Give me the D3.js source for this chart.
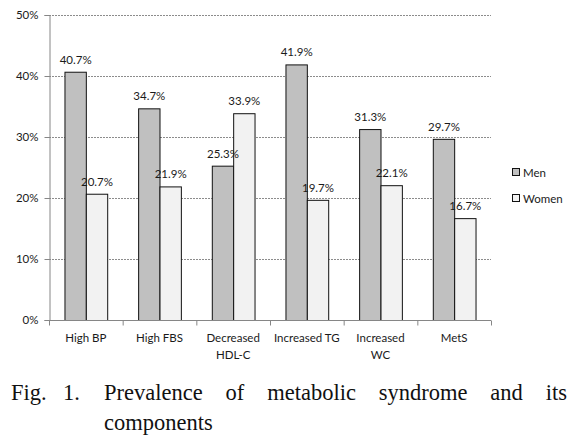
<!DOCTYPE html>
<html><head><meta charset="utf-8">
<script src="https://cdn.jsdelivr.net/npm/d3@7"></script>
<style>body{margin:0;background:#fff}svg{display:block}</style>
</head><body>
<script>
const categories = [["High BP"],["High FBS"],["Decreased","HDL-C"],["Increased TG"],["Increased","WC"],["MetS"]];
const men = [40.7, 34.7, 25.3, 41.9, 31.3, 29.7];
const women = [20.7, 21.9, 33.9, 19.7, 22.1, 16.7];
const seriesNames = ["Men", "Women"];
const yTicks = [0, 10, 20, 30, 40, 50];
const captionLine1 = ["Fig.", "1.", "Prevalence", "of", "metabolic", "syndrome", "and", "its"];
const captionLine2 = "components";

const W = 587, H = 439;
const m = {l:49, r:96, t:15, b:119};
const svg = d3.select("body").append("svg").attr("width", W).attr("height", H);
const font = "Lato, 'Open Sans', sans-serif";

const x = d3.scaleBand().domain(d3.range(categories.length)).range([m.l, W - m.r]).paddingInner(0.42).paddingOuter(0.21);
const y = d3.scaleLinear().domain([0, 50]).range([H - m.b, m.t]);
const xs = d3.scaleBand().domain([0,1]).range([0, x.bandwidth()]);
const colors = ["#c0c0c0", "#f2f2f2"];

// gridlines
svg.append("g").selectAll("line").data(yTicks.filter(d => d > 0)).join("line")
  .attr("x1", m.l).attr("x2", W - m.r).attr("y1", d => y(d) + 0.5).attr("y2", d => y(d) + 0.5)
  .attr("stroke", "#8c8c8c").attr("stroke-dasharray", "2,1").attr("stroke-width", 1);

// y axis
const yAxis = d3.axisLeft(y).tickValues(yTicks).tickFormat(d => d + "%").tickSize(5).tickPadding(6);
const gy = svg.append("g").attr("transform", `translate(${m.l + 0.5},0)`).call(yAxis);
gy.select(".domain").attr("stroke", "#868686");
gy.selectAll(".tick line").attr("stroke", "#868686");
gy.selectAll(".tick text").attr("font-family", font).attr("font-size", 11.5).attr("fill", "#1a1a1a");

// bars
const data = [men, women];
data.forEach((vals, si) => {
  svg.append("g").selectAll("rect").data(vals).join("rect")
    .attr("x", (d, i) => x(i) + xs(si) + 0.5)
    .attr("y", d => y(d) + 0.5)
    .attr("width", xs.bandwidth())
    .attr("height", d => y(0) - y(d))
    .attr("fill", colors[si]).attr("stroke", "#111").attr("stroke-width", 1);
});
data.forEach((vals, si) => {
  svg.append("g").selectAll("text").data(vals).join("text")
    .attr("x", (d, i) => x(i) + xs(si) + xs.bandwidth() / 2 + 0.5)
    .attr("y", d => y(d) - 8)
    .attr("text-anchor", "middle")
    .attr("font-family", font).attr("font-size", 11.5).attr("fill", "#1a1a1a")
    .text(d => d.toFixed(1) + "%");
});

// x axis
const base = y(0) + 0.5;
svg.append("line").attr("x1", m.l).attr("x2", W - m.r).attr("y1", base).attr("y2", base).attr("stroke", "#868686");
const step = (W - m.r - m.l) / categories.length;
svg.append("g").selectAll("line").data(d3.range(categories.length + 1)).join("line")
  .attr("x1", i => m.l + i * step + 0.5).attr("x2", i => m.l + i * step + 0.5)
  .attr("y1", base).attr("y2", base + 5).attr("stroke", "#868686");
const cl = svg.append("g").selectAll("text").data(categories).join("text")
  .attr("text-anchor", "middle").attr("font-family", font).attr("font-size", 11.5).attr("fill", "#1a1a1a")
  .attr("x", (d, i) => x(i) + x.bandwidth() / 2).attr("y", 342);
cl.selectAll("tspan").data(d => d).join("tspan")
  .attr("x", function() { return this.parentNode.getAttribute("x"); })
  .attr("dy", (d, i) => i === 0 ? 0 : 17).text(d => d);

// legend
const lg = svg.append("g");
seriesNames.forEach((n, i) => {
  lg.append("rect").attr("x", 512.5).attr("y", 168.5 + i * 26).attr("width", 7).attr("height", 7)
    .attr("fill", colors[i]).attr("stroke", "#111");
  lg.append("text").attr("x", 523).attr("y", 176.5 + i * 26).attr("font-family", font)
    .attr("font-size", 11.5).attr("fill", "#1a1a1a").text(n);
});

// caption (justified)
const capFont = "'Liberation Serif', 'Times New Roman', serif";
const capSize = 22.5;
const cap = svg.append("g").attr("font-family", capFont).attr("font-size", capSize).attr("fill", "#111");
cap.append("text").attr("x", 11).attr("y", 400).text(captionLine1[0]);
cap.append("text").attr("x", 63).attr("y", 400).text(captionLine1[1]);
const words = captionLine1.slice(2);
const tnodes = words.map(w => cap.append("text").attr("y", 400).text(w));
const widths = tnodes.map(t => t.node().getComputedTextLength());
const left = 104, right = 567;
const gap = (right - left - d3.sum(widths)) / (words.length - 1);
let cx = left;
tnodes.forEach((t, i) => { t.attr("x", cx); cx += widths[i] + gap; });
cap.append("text").attr("x", 104).attr("y", 430).text(captionLine2);
</script>
</body></html>
